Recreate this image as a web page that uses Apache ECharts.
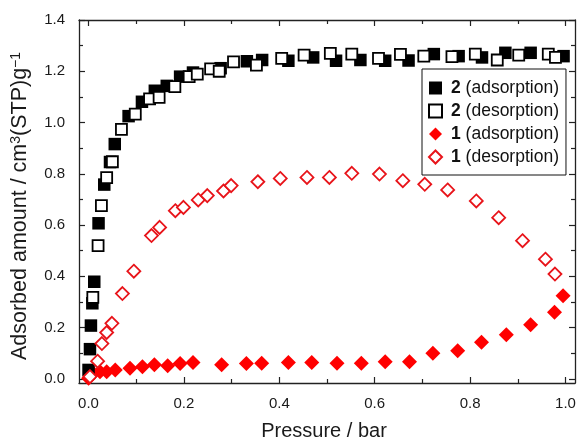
<!DOCTYPE html>
<html><head><meta charset="utf-8">
<script src="https://cdn.jsdelivr.net/npm/echarts@6/dist/echarts.min.js"></script>
<style>html,body{margin:0;padding:0;background:#fff}#c{width:577px;height:438px}</style>
</head><body><div id="c"></div>
<script>
// Data (pressure / bar, adsorbed amount)
const ads2 = [[0.000,0.035],[0.003,0.116],[0.005,0.208],[0.008,0.295],[0.012,0.379],[0.021,0.607],[0.033,0.758],[0.045,0.846],[0.055,0.916],[0.084,1.025],[0.112,1.081],[0.139,1.124],[0.164,1.143],[0.192,1.179],[0.219,1.195],[0.277,1.212],[0.332,1.239],[0.364,1.244],[0.419,1.241],[0.471,1.254],[0.519,1.241],[0.570,1.244],[0.622,1.241],[0.671,1.242],[0.724,1.267],[0.776,1.259],[0.825,1.254],[0.874,1.272],[0.927,1.272],[0.996,1.259]];
const des2 = [[0.009,0.318],[0.020,0.520],[0.027,0.676],[0.038,0.785],[0.050,0.847],[0.069,0.973],[0.098,1.033],[0.128,1.092],[0.148,1.098],[0.181,1.140],[0.211,1.179],[0.228,1.189],[0.256,1.209],[0.274,1.200],[0.304,1.237],[0.352,1.224],[0.405,1.250],[0.452,1.263],[0.507,1.270],[0.552,1.267],[0.608,1.250],[0.654,1.266],[0.703,1.259],[0.762,1.257],[0.811,1.267],[0.857,1.244],[0.902,1.263],[0.964,1.267],[0.979,1.254]];
const ads1 = [[0.000,0.003],[0.010,0.022],[0.024,0.028],[0.038,0.028],[0.056,0.035],[0.087,0.042],[0.113,0.047],[0.138,0.055],[0.166,0.051],[0.192,0.060],[0.219,0.064],[0.279,0.055],[0.331,0.060],[0.363,0.061],[0.419,0.064],[0.468,0.064],[0.521,0.061],[0.572,0.061],[0.622,0.067],[0.673,0.067],[0.722,0.100],[0.774,0.110],[0.824,0.143],[0.876,0.172],[0.927,0.211],[0.977,0.260],[0.995,0.324]];
const des1 = [[0.003,0.009],[0.019,0.069],[0.028,0.138],[0.038,0.181],[0.049,0.217],[0.071,0.333],[0.095,0.420],[0.132,0.559],[0.149,0.591],[0.182,0.656],[0.199,0.669],[0.230,0.698],[0.249,0.715],[0.283,0.733],[0.299,0.754],[0.355,0.769],[0.402,0.782],[0.458,0.786],[0.505,0.786],[0.552,0.802],[0.610,0.799],[0.659,0.773],[0.705,0.759],[0.753,0.737],[0.813,0.694],[0.860,0.629],[0.910,0.539],[0.958,0.467],[0.978,0.409]];
const xMajor = [0, 0.2, 0.4, 0.6, 0.8, 1.0];
const xMinor = [0.1, 0.3, 0.5, 0.7, 0.9];
const yMajor = [0, 0.2, 0.4, 0.6, 0.8, 1.0, 1.2, 1.4];
const yMinor = [0.1, 0.3, 0.5, 0.7, 0.9, 1.1, 1.3];
const names = ['2 (adsorption)', '2 (desorption)', '1 (adsorption)', '1 (desorption)'];

const FONT = 'Arial, "Liberation Sans", sans-serif';
const AX = '#222';
const XMIN = -0.02, XMAX = 1.02, YMIN = -0.016, YMAX = 1.4;

function xAx(pos, vals, len, main) {
  return {
    type: 'value', position: pos, min: XMIN, max: XMAX,
    splitLine: {show: false},
    axisLine: {show: main, onZero: false, lineStyle: {color: AX, width: 1.3}},
    axisTick: {show: true, inside: true, length: len, customValues: vals, lineStyle: {color: AX, width: 1.2}},
    axisLabel: (main && pos === 'bottom') ? {show: true, customValues: xMajor, margin: 13, color: '#1a1a1a', fontFamily: FONT, fontSize: 15, formatter: v => v.toFixed(1)} : {show: false}
  };
}
function yAx(pos, vals, len, main) {
  return {
    type: 'value', position: pos, min: YMIN, max: YMAX,
    splitLine: {show: false},
    axisLine: {show: main, onZero: false, lineStyle: {color: AX, width: 1.3}},
    axisTick: {show: true, inside: true, length: len, customValues: vals, lineStyle: {color: AX, width: 1.2}},
    axisLabel: (main && pos === 'left') ? {show: true, customValues: yMajor, margin: 14, color: '#1a1a1a', fontFamily: FONT, fontSize: 15, formatter: v => v.toFixed(1)} : {show: false}
  };
}
const xAxes = [xAx('bottom', xMajor, 6, true), xAx('bottom', xMinor, 4, false), xAx('top', xMajor, 6, true), xAx('top', xMinor, 4, false)];
const yAxes = [yAx('left', yMajor, 6, true), yAx('left', yMinor, 4, false), yAx('right', yMajor, 6, true), yAx('right', yMinor, 4, false)];
Object.assign(xAxes[0], {name: 'Pressure / bar', nameLocation: 'middle', nameGap: 38, nameTextStyle: {fontFamily: FONT, fontSize: 20, color: '#1a1a1a', padding: [0, 6, 0, 0]}});
Object.assign(yAxes[0], {name: 'Adsorbed amount / cm{sup|3}(STP)g{sup|\u22121}', nameLocation: 'middle', nameGap: 47, nameRotate: 90,
  nameTextStyle: {fontFamily: FONT, fontSize: 21.5, color: '#1a1a1a', padding: [0, 9, 0, 0],
    rich: {sup: {fontFamily: FONT, fontSize: 14, color: '#1a1a1a', verticalAlign: 'top', padding: [0,0,9,0]}}}});

const chart = echarts.init(document.getElementById('c'), null, {renderer: 'canvas'});
chart.setOption({
  animation: false,
  backgroundColor: '#fff',
  grid: {left: 79, right: 2, top: 20, bottom: 55, containLabel: false, outerBoundsMode: 'none'},
  xAxis: xAxes,
  yAxis: yAxes,
  legend: {
    data: names,
    orient: 'vertical', left: 422, top: 69,
    backgroundColor: '#fff', borderColor: '#111', borderWidth: 1,
    padding: [10, 7, 9, 6], itemGap: 5, itemWidth: 13, itemHeight: 13,
    formatter: n => { const i = n.indexOf(' '); return '{b|' + n.slice(0, i) + '}' + n.slice(i); },
    textStyle: {fontFamily: FONT, fontSize: 17.5, color: '#111', padding: [0,0,0,4],
      rich: {b: {fontFamily: FONT, fontSize: 17.5, fontWeight: 'bold', color: '#111'}}}
  },
  series: [
    {name: names[2], type: 'scatter', data: ads1, symbol: 'diamond', symbolSize: 15,
     itemStyle: {color: '#ff0000', opacity: 1}},
    {name: names[0], type: 'scatter', data: ads2, symbol: 'rect', symbolSize: 12.5,
     itemStyle: {color: '#000', opacity: 1}},
    {name: names[1], type: 'scatter', data: des2, symbol: 'rect', symbolSize: 11,
     itemStyle: {color: '#fff', borderColor: '#000', borderWidth: 1.8, opacity: 1}},
    {name: names[3], type: 'scatter', data: des1, symbol: 'diamond', symbolSize: 13,
     itemStyle: {color: '#fff', borderColor: '#e8141a', borderWidth: 1.8, opacity: 1}}
  ]
});
</script></body></html>
